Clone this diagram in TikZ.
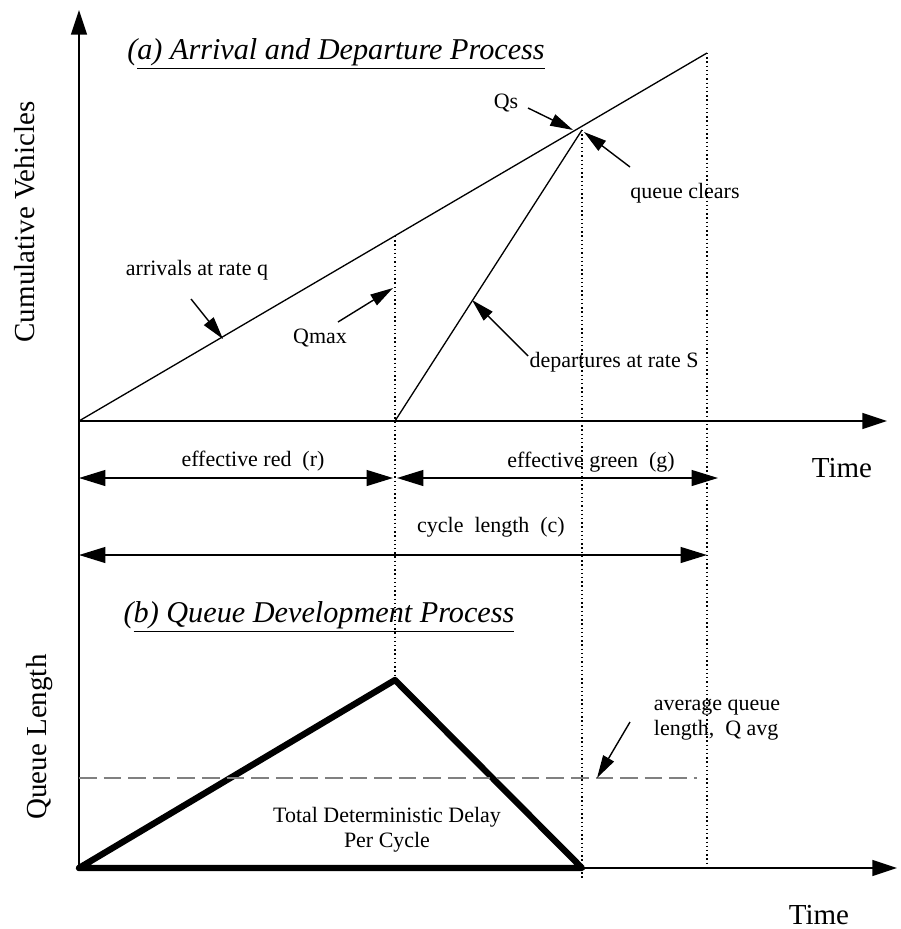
\documentclass[tikz,border=0pt]{standalone}
\usepackage{fontspec}
\setmainfont{Liberation Serif}
\usetikzlibrary{arrows.meta}

\begin{document}
\begin{tikzpicture}[
        x=0.02cm, y=-0.02cm,
        axis/.style={line width=1pt, -{Triangle[length=14pt, width=9pt]}},
        curve/.style={line width=0.75pt},
        guide/.style={line width=0.8pt, dash pattern=on 0.8pt off 1.6pt},
        avgline/.style={line width=0.8pt, gray, dash pattern=on 10pt off 4pt},
        span/.style={line width=1pt, {Triangle[length=15pt, width=9pt]}-{Triangle[length=15pt, width=9pt]}},
        pointer/.style={line width=0.8pt, -{Triangle[length=13pt, width=7pt]}},
        lbl/.style={font=\fontsize{12.5}{14}\selectfont, inner sep=0pt},
        axlbl/.style={font=\fontsize{16.5}{18}\selectfont, inner sep=0pt},
        ttl/.style={font=\fontsize{17.2}{20}\selectfont\itshape, inner sep=0pt},
    ]
        \useasboundingbox (0,0) rectangle (900,929);

        % Key points
        \coordinate (O) at (79,421);
        \coordinate (yTop) at (79,10);
        \coordinate (xEnd) at (887,421);
        \coordinate (B) at (79,868);
        \coordinate (bEnd) at (897,868);
        \coordinate (arrEnd) at (707,53);
        \coordinate (redEnd) at (395,421);
        \coordinate (clear) at (582,130);
        \coordinate (qmax) at (395,236);
        \coordinate (peak) at (395,680);
        \coordinate (clearB) at (582,868);
        \coordinate (clearLow) at (582,878);
        \coordinate (cycB) at (707,868);
        \coordinate (avgL) at (79,778);
        \coordinate (avgR) at (697,778);

        % Axes
        \draw[axis] (B) -- (yTop);
        \draw[axis] (O) -- (xEnd);
        \draw[axis] (B) -- (bEnd);

        % Arrival and departure curves
        \draw[curve] (O) -- (arrEnd);
        \draw[curve] (redEnd) -- (clear);

        % Guides
        \draw[guide] (qmax) -- (peak);
        \draw[guide] (clear) -- (clearLow);
        \draw[guide] (arrEnd) -- (cycB);

        % Queue triangle
        \draw[line width=3.6pt, line join=round] (B) -- (peak) -- (clearB) -- cycle;
        \draw[avgline] (avgL) -- (avgR);

        % Interval arrows
        \coordinate (r0) at (79,478);
        \coordinate (r1) at (393,478);
        \coordinate (g0) at (397,478);
        \coordinate (g1) at (718,478);
        \coordinate (c0) at (79,555);
        \coordinate (c1) at (707,555);
        \draw[span] (r0) -- (r1);
        \draw[span] (g0) -- (g1);
        \draw[span] (c0) -- (c1);

        % Labels
        \node[ttl] (ttlA) at (336,54) {(\underline{a) Arrival and Departure Process}};
        \node[ttl] (ttlB) at (319,617) {(\underline{b) Queue Development Process}};
        \node[axlbl, rotate=90] (yA) at (25,222) {Cumulative Vehicles};
        \node[axlbl, rotate=90] (yB) at (40,737) {Queue Length};
        \node[axlbl] (tA) at (842,468) {Time};
        \node[axlbl] (tB) at (819,915) {Time};
        \node[lbl] (arrLbl) at (197,270) {arrivals at rate q};
        \node[lbl] (qmaxLbl) at (320,338) {Qmax};
        \node[lbl] (qsLbl) at (506,103) {Qs};
        \node[lbl] (clrLbl) at (685,193) {queue clears};
        \node[lbl] (depLbl) at (614,362) {departures at rate S};
        \node[lbl] (redLbl) at (253,461) {effective red~~(r)};
        \node[lbl] (grnLbl) at (591,462) {effective green~~(g)};
        \node[lbl] (cycLbl) at (491,527) {cycle~~length~~(c)};
        \node[lbl, align=left] (avgLbl) at (717,720) {average queue\\length,~~Q avg};
        \node[lbl, align=center] (delLbl) at (387,830) {Total Deterministic Delay\\Per Cycle};

        % Pointers
        \coordinate (pArr0) at (191,299);
        \coordinate (pArr1) at (223,339);
        \coordinate (pMax0) at (338,322);
        \coordinate (pMax1) at (393,288);
        \coordinate (pDep0) at (528,356);
        \coordinate (pDep1) at (472,300);
        \coordinate (pQs0) at (528,108);
        \coordinate (pQs1) at (573,130);
        \coordinate (pClr0) at (630,167);
        \coordinate (pClr1) at (584,132);
        \coordinate (pAvg0) at (630,722);
        \coordinate (pAvg1) at (597,778);
        \draw[pointer] (pArr0) -- (pArr1);
        \draw[pointer] (pMax0) -- (pMax1);
        \draw[pointer] (pDep0) -- (pDep1);
        \draw[pointer] (pQs0) -- (pQs1);
        \draw[pointer] (pClr0) -- (pClr1);
        \draw[pointer] (pAvg0) -- (pAvg1);
    \end{tikzpicture}
\end{document}
